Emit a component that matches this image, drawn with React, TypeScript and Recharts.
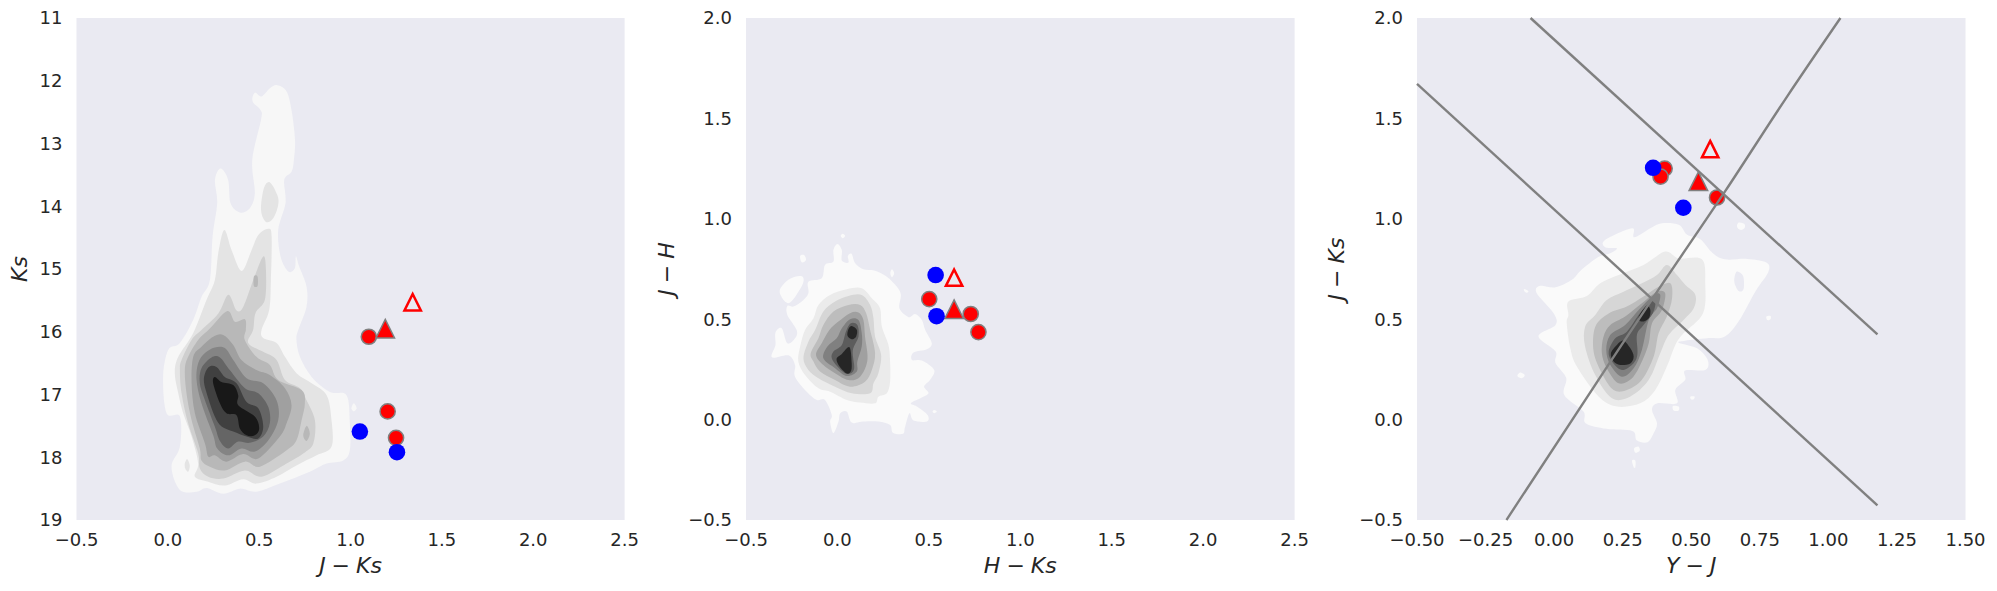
import { CartesianGrid, Label, Scatter, ScatterChart, XAxis, YAxis } from "recharts";

type Pt = [number, number];

const ticksColor = [-0.5, 0, 0.5, 1, 1.5, 2, 2.5];
const ticksKs = [11, 12, 13, 14, 15, 16, 17, 18, 19];
const ticksJH = [-0.5, 0, 0.5, 1, 1.5, 2];
const ticksYJ = [-0.5, -0.25, 0, 0.25, 0.5, 0.75, 1, 1.25, 1.5];

const grey9 = ["#f7f7f7", "#e4e4e4", "#cfcfcf", "#b8b8b8", "#a0a0a0", "#848484", "#656565", "#404040", "#181818"];
const grey8 = ["#fafafa", "#ebebeb", "#d6d6d6", "#bdbdbd", "#a0a0a0", "#808080", "#5c5c5c", "#262626"];

// J-Ks vs Ks
const redA: Pt[] = [[1.1, 16.08], [1.203, 17.27], [1.249, 17.69]];
const blueA: Pt[] = [[1.051, 17.59], [1.254, 17.92]];
const triFillA: Pt[] = [[1.19, 15.95]];
const triOpenA: Pt[] = [[1.34, 15.53]];

const a1: Pt[] = [[0.599, 12.07], [0.65, 12.17], [0.677, 12.47], [0.696, 12.94], [0.69, 13.26], [0.677, 13.45], [0.637, 13.58], [0.644, 13.95], [0.604, 14.38], [0.617, 14.8], [0.659, 15.04], [0.695, 14.99], [0.701, 14.8], [0.719, 14.96], [0.759, 15.28], [0.759, 15.6], [0.714, 15.97], [0.704, 16.13], [0.723, 16.4], [0.787, 16.72], [0.887, 16.96], [0.978, 17.01], [0.996, 17.46], [0.996, 17.89], [0.96, 18.05], [0.869, 18.1], [0.777, 18.23], [0.613, 18.42], [0.485, 18.55], [0.394, 18.5], [0.303, 18.58], [0.212, 18.49], [0.157, 18.55], [0.066, 18.52], [0.02, 18.15], [0.066, 17.83], [0.066, 17.35], [-0.007, 17.3], [-0.026, 16.72], [0.002, 16.29], [0.066, 16.18], [0.139, 15.81], [0.185, 15.44], [0.23, 15.18], [0.245, 14.48], [0.27, 13.95], [0.258, 13.58], [0.289, 13.4], [0.33, 13.58], [0.343, 13.95], [0.394, 14.1], [0.449, 14.03], [0.476, 13.79], [0.462, 13.26], [0.51, 12.62], [0.508, 12.47], [0.464, 12.33], [0.476, 12.19], [0.513, 12.25], [0.559, 12.12]];
const a1b: Pt[] = [[1.018, 17.14], [1.033, 17.22], [1.018, 17.27], [1.005, 17.22]];
const a2: Pt[] = [[0.309, 14.38], [0.349, 14.7], [0.404, 15.03], [0.458, 14.7], [0.495, 14.46], [0.55, 14.36], [0.568, 14.48], [0.564, 15.18], [0.555, 15.65], [0.513, 15.97], [0.522, 16.1], [0.595, 16.18], [0.641, 16.4], [0.704, 16.66], [0.787, 16.82], [0.869, 17.01], [0.896, 17.41], [0.896, 17.83], [0.814, 17.97], [0.704, 18.13], [0.595, 18.31], [0.485, 18.42], [0.412, 18.35], [0.312, 18.45], [0.221, 18.39], [0.148, 18.31], [0.166, 18.1], [0.13, 17.67], [0.084, 17.3], [0.057, 16.98], [0.038, 16.66], [0.057, 16.4], [0.139, 16.02], [0.212, 15.49], [0.257, 15.18], [0.276, 14.75]];
const a2b: Pt[] = [[0.559, 13.62], [0.599, 13.82], [0.604, 13.98], [0.577, 14.19], [0.537, 14.25], [0.51, 14.06], [0.526, 13.71]];
const a2c: Pt[] = [[0.106, 18.03], [0.12, 18.13], [0.111, 18.23], [0.095, 18.18], [0.093, 18.1]];
const a3: Pt[] = [[0.522, 14.8], [0.537, 15.02], [0.531, 15.49], [0.48, 15.7], [0.467, 15.97], [0.44, 16.18], [0.522, 16.32], [0.595, 16.45], [0.641, 16.77], [0.723, 16.9], [0.759, 17.09], [0.805, 17.41], [0.796, 17.78], [0.741, 17.94], [0.65, 18.1], [0.513, 18.31], [0.422, 18.21], [0.303, 18.34], [0.221, 18.31], [0.175, 18.18], [0.166, 17.94], [0.111, 17.46], [0.075, 16.98], [0.066, 16.61], [0.075, 16.45], [0.13, 16.13], [0.185, 15.97], [0.276, 15.71], [0.331, 15.41], [0.376, 15.66], [0.413, 15.6], [0.467, 15.18]];
const a4: Pt[] = [[0.325, 15.67], [0.367, 15.84], [0.422, 15.8], [0.427, 15.97], [0.421, 16.13], [0.485, 16.4], [0.558, 16.53], [0.604, 16.77], [0.732, 16.93], [0.75, 17.14], [0.732, 17.41], [0.704, 17.73], [0.65, 17.89], [0.504, 18.15], [0.422, 18.07], [0.312, 18.21], [0.23, 18.15], [0.184, 18.05], [0.175, 17.86], [0.13, 17.41], [0.102, 16.98], [0.093, 16.61], [0.111, 16.4], [0.166, 16.13], [0.23, 15.95]];
const a4b: Pt[] = [[0.759, 17.5], [0.777, 17.62], [0.759, 17.74], [0.741, 17.65]];
const a4c: Pt[] = [[0.471, 15.12], [0.491, 15.12], [0.491, 15.27], [0.471, 15.27]];
const a5: Pt[] = [[0.303, 16.05], [0.358, 16.21], [0.403, 16.45], [0.485, 16.61], [0.558, 16.69], [0.641, 16.9], [0.677, 17.17], [0.65, 17.46], [0.613, 17.67], [0.495, 18.02], [0.412, 17.95], [0.321, 18.07], [0.257, 17.97], [0.221, 17.99], [0.203, 17.78], [0.148, 17.3], [0.13, 16.82], [0.139, 16.4], [0.184, 16.24], [0.248, 16.08]];
const a6: Pt[] = [[0.257, 16.25], [0.312, 16.26], [0.358, 16.45], [0.431, 16.74], [0.522, 16.82], [0.595, 17.09], [0.604, 17.41], [0.55, 17.73], [0.476, 17.91], [0.403, 17.86], [0.33, 17.97], [0.27, 17.86], [0.248, 17.65], [0.184, 17.14], [0.157, 16.77], [0.166, 16.5], [0.203, 16.34]];
const a7: Pt[] = [[0.239, 16.41], [0.285, 16.41], [0.339, 16.61], [0.422, 16.9], [0.495, 16.98], [0.55, 17.2], [0.558, 17.46], [0.522, 17.67], [0.449, 17.77], [0.385, 17.75], [0.33, 17.86], [0.285, 17.74], [0.257, 17.51], [0.203, 17.09], [0.175, 16.82], [0.184, 16.58]];
const a8: Pt[] = [[0.221, 16.57], [0.266, 16.56], [0.312, 16.72], [0.376, 16.82], [0.431, 17.12], [0.495, 17.22], [0.522, 17.51], [0.495, 17.7], [0.431, 17.67], [0.358, 17.59], [0.294, 17.51], [0.257, 17.35], [0.221, 17.06], [0.197, 16.77]];
const a9: Pt[] = [[0.257, 16.72], [0.294, 16.8], [0.358, 16.85], [0.385, 17.01], [0.385, 17.17], [0.476, 17.35], [0.5, 17.54], [0.476, 17.65], [0.431, 17.65], [0.394, 17.54], [0.376, 17.33], [0.321, 17.3], [0.285, 17.14], [0.248, 16.82]];

// H-Ks vs J-H
const redB: Pt[] = [[0.502, 0.6], [0.729, 0.526], [0.771, 0.436]];
const blueB: Pt[] = [[0.537, 0.72], [0.542, 0.515]];
const triFillB: Pt[] = [[0.638, 0.55]];
const triOpenB: Pt[] = [[0.638, 0.707]];

const b1: Pt[] = [[0, 0.875], [0.024, 0.845], [0.024, 0.792], [0.06, 0.782], [0.057, 0.815], [0.078, 0.825], [0.097, 0.779], [0.142, 0.749], [0.201, 0.742], [0.27, 0.712], [0.325, 0.662], [0.347, 0.621], [0.339, 0.554], [0.389, 0.51], [0.425, 0.526], [0.462, 0.496], [0.48, 0.446], [0.516, 0.38], [0.489, 0.35], [0.416, 0.334], [0.407, 0.297], [0.462, 0.294], [0.529, 0.247], [0.507, 0.198], [0.474, 0.164], [0.498, 0.131], [0.453, 0.106], [0.401, 0.081], [0.434, 0.065], [0.493, 0.023], [0.489, -0.01], [0.416, -0.005], [0.394, 0.032], [0.37, -0.035], [0.358, -0.071], [0.303, -0.065], [0.288, -0.027], [0.224, -0.01], [0.142, -0.01], [0.078, -0.015], [0.051, 0.04], [0.015, 0.032], [0.006, -0.01], [-0.022, -0.068], [-0.04, -0.01], [-0.031, 0.023], [-0.068, 0.098], [-0.113, 0.098], [-0.168, 0.139], [-0.232, 0.214], [-0.232, 0.272], [-0.268, 0.32], [-0.358, 0.31], [-0.339, 0.372], [-0.339, 0.433], [-0.305, 0.455], [-0.274, 0.38], [-0.232, 0.405], [-0.223, 0.446], [-0.274, 0.521], [-0.274, 0.566], [-0.241, 0.563], [-0.195, 0.588], [-0.159, 0.629], [-0.159, 0.687], [-0.086, 0.704], [-0.068, 0.77], [-0.022, 0.787], [-0.022, 0.845]];
const b1b: Pt[] = [[-0.316, 0.641], [-0.268, 0.697], [-0.199, 0.715], [-0.188, 0.679], [-0.246, 0.594], [-0.281, 0.584]];
const b1c: Pt[] = [[-0.204, 0.815], [-0.182, 0.82], [-0.172, 0.795], [-0.195, 0.783]];
const b1d: Pt[] = [[0.029, 0.925], [0.042, 0.915], [0.029, 0.903], [0.018, 0.915]];
const b1e: Pt[] = [[0.298, 0.749], [0.31, 0.729], [0.298, 0.709], [0.289, 0.729]];
const b1f: Pt[] = [[0.529, 0.048], [0.544, 0.04], [0.529, 0.032], [0.52, 0.04]];
const b2: Pt[] = [[0.051, 0.649], [0.133, 0.654], [0.188, 0.604], [0.233, 0.554], [0.243, 0.463], [0.279, 0.372], [0.288, 0.289], [0.288, 0.189], [0.27, 0.131], [0.224, 0.114], [0.206, 0.081], [0.124, 0.085], [0.051, 0.098], [-0.04, 0.139], [-0.104, 0.156], [-0.177, 0.222], [-0.214, 0.289], [-0.204, 0.363], [-0.177, 0.446], [-0.131, 0.505], [-0.104, 0.571], [-0.04, 0.621]];
const b3: Pt[] = [[0.06, 0.616], [0.133, 0.621], [0.179, 0.571], [0.197, 0.505], [0.206, 0.413], [0.239, 0.322], [0.224, 0.231], [0.197, 0.181], [0.179, 0.131], [0.079, 0.131], [-0.013, 0.164], [-0.104, 0.206], [-0.159, 0.247], [-0.186, 0.305], [-0.159, 0.388], [-0.122, 0.446], [-0.077, 0.538], [-0.013, 0.588]];
const b4: Pt[] = [[0.06, 0.571], [0.124, 0.571], [0.157, 0.53], [0.179, 0.446], [0.206, 0.33], [0.188, 0.247], [0.151, 0.189], [0.069, 0.164], [-0.013, 0.197], [-0.095, 0.239], [-0.131, 0.289], [-0.146, 0.33], [-0.104, 0.405], [-0.077, 0.471], [-0.022, 0.538]];
const b5: Pt[] = [[0.069, 0.53], [0.115, 0.533], [0.142, 0.496], [0.151, 0.413], [0.164, 0.297], [0.124, 0.214], [0.06, 0.197], [-0.013, 0.231], [-0.077, 0.272], [-0.117, 0.322], [-0.086, 0.38], [-0.044, 0.446], [0.005, 0.488]];
const b6: Pt[] = [[0.069, 0.5], [0.115, 0.496], [0.133, 0.43], [0.133, 0.364], [0.109, 0.289], [0.106, 0.239], [0.051, 0.217], [-0.013, 0.256], [-0.077, 0.305], [-0.055, 0.364], [-0.004, 0.405], [0.024, 0.455]];
const b7: Pt[] = [[0.073, 0.48], [0.109, 0.471], [0.115, 0.413], [0.084, 0.344], [0.091, 0.251], [0.051, 0.227], [0, 0.264], [-0.031, 0.305], [-0.022, 0.339], [0.024, 0.372], [0.046, 0.438]];
const b8: Pt[] = [[0.078, 0.466], [0.106, 0.447], [0.102, 0.413], [0.078, 0.4], [0.055, 0.417], [0.06, 0.45]];
const b8b: Pt[] = [[0.066, 0.36], [0.078, 0.28], [0.073, 0.239], [0.048, 0.231], [0.006, 0.272], [-0.004, 0.305], [0.024, 0.327]];

// Y-J vs J-Ks
const redC: Pt[] = [[0.403, 1.25], [0.388, 1.21], [0.594, 1.106]];
const blueC: Pt[] = [[0.361, 1.254], [0.471, 1.055]];
const triFillC: Pt[] = [[0.526, 1.187]];
const triOpenC: Pt[] = [[0.569, 1.347]];
const upperCut: Pt[] = [[-0.086, 2], [1.179, 0.424]];
const lowerCut: Pt[] = [[-0.5, 1.672], [1.179, -0.427]];
const sequence: Pt[] = [[-0.174, -0.5], [0.206, 0.29], [0.377, 0.64], [0.625, 1.14], [0.85, 1.61], [1.044, 2]];

const c1: Pt[] = [[0.393, 0.978], [0.455, 0.97], [0.485, 0.92], [0.533, 0.898], [0.579, 0.828], [0.624, 0.798], [0.704, 0.8], [0.774, 0.782], [0.781, 0.735], [0.735, 0.641], [0.673, 0.49], [0.621, 0.413], [0.558, 0.405], [0.478, 0.393], [0.454, 0.383], [0.521, 0.355], [0.56, 0.297], [0.551, 0.247], [0.478, 0.244], [0.478, 0.198], [0.442, 0.148], [0.448, 0.081], [0.377, 0.081], [0.357, 0.048], [0.375, -0.018], [0.363, -0.068], [0.34, -0.113], [0.301, -0.103], [0.285, -0.057], [0.191, -0.046], [0.115, -0.018], [0.107, 0.04], [0.037, 0.123], [0.044, 0.207], [0.005, 0.282], [0.005, 0.34], [-0.057, 0.415], [0.005, 0.471], [-0.002, 0.53], [-0.064, 0.631], [-0.051, 0.666], [0.005, 0.659], [0.065, 0.696], [0.099, 0.745], [0.161, 0.81], [0.205, 0.828], [0.229, 0.853], [0.186, 0.858], [0.186, 0.895], [0.284, 0.953], [0.292, 0.908], [0.351, 0.953]];
const c1hole: Pt[] = [[0.666, 0.737], [0.689, 0.715], [0.691, 0.651], [0.673, 0.641], [0.657, 0.687]];
const c1b: Pt[] = [[-0.124, 0.234], [-0.107, 0.222], [-0.118, 0.206], [-0.134, 0.217]];
const c1c: Pt[] = [[-0.109, 0.651], [-0.094, 0.641], [-0.1, 0.632], [-0.109, 0.641]];
const c1d: Pt[] = [[0.673, 0.981], [0.694, 0.974], [0.694, 0.953], [0.679, 0.945], [0.667, 0.961]];
const c1e: Pt[] = [[0.497, 0.115], [0.512, 0.115], [0.509, 0.101], [0.499, 0.101]];
const c1f: Pt[] = [[0.433, 0.068], [0.454, 0.065], [0.454, 0.045], [0.436, 0.045]];
const c1g: Pt[] = [[0.774, 0.513], [0.789, 0.516], [0.789, 0.5], [0.777, 0.496]];
const c1h: Pt[] = [[0.292, -0.143], [0.308, -0.135], [0.312, -0.155], [0.296, -0.165]];
const c1i: Pt[] = [[0.284, -0.204], [0.296, -0.204], [0.296, -0.237], [0.29, -0.237]];
const c2: Pt[] = [[0.405, 0.837], [0.454, 0.803], [0.539, 0.798], [0.551, 0.679], [0.543, 0.53], [0.472, 0.43], [0.442, 0.372], [0.411, 0.264], [0.369, 0.148], [0.314, 0.081], [0.229, 0.065], [0.162, 0.115], [0.083, 0.264], [0.059, 0.355], [0.046, 0.48], [0.052, 0.521], [0.052, 0.588], [0.119, 0.616], [0.168, 0.679], [0.235, 0.72], [0.326, 0.77]];
const c3: Pt[] = [[0.411, 0.77], [0.448, 0.72], [0.478, 0.671], [0.515, 0.621], [0.509, 0.554], [0.472, 0.496], [0.418, 0.422], [0.387, 0.33], [0.345, 0.198], [0.278, 0.115], [0.211, 0.106], [0.15, 0.222], [0.113, 0.363], [0.113, 0.463], [0.15, 0.521], [0.192, 0.596], [0.253, 0.637], [0.32, 0.679], [0.375, 0.72]];
const c4: Pt[] = [[0.381, 0.662], [0.424, 0.679], [0.43, 0.604], [0.411, 0.513], [0.381, 0.43], [0.363, 0.314], [0.32, 0.198], [0.265, 0.147], [0.217, 0.147], [0.174, 0.231], [0.144, 0.339], [0.15, 0.463], [0.199, 0.529], [0.265, 0.563], [0.326, 0.613]];
const c5: Pt[] = [[0.375, 0.637], [0.405, 0.629], [0.393, 0.546], [0.357, 0.48], [0.345, 0.38], [0.32, 0.289], [0.284, 0.206], [0.235, 0.181], [0.192, 0.256], [0.174, 0.33], [0.18, 0.413], [0.205, 0.471], [0.259, 0.513], [0.32, 0.579]];
const c6: Pt[] = [[0.363, 0.621], [0.387, 0.621], [0.375, 0.554], [0.345, 0.496], [0.32, 0.347], [0.29, 0.256], [0.247, 0.214], [0.205, 0.272], [0.19, 0.347], [0.205, 0.422], [0.259, 0.471], [0.314, 0.554]];
const c7: Pt[] = [[0.345, 0.579], [0.369, 0.588], [0.36, 0.53], [0.326, 0.471], [0.302, 0.422], [0.304, 0.33], [0.29, 0.281], [0.247, 0.247], [0.211, 0.289], [0.199, 0.339], [0.223, 0.405], [0.265, 0.438], [0.308, 0.521]];
const c8: Pt[] = [[0.336, 0.566], [0.351, 0.546], [0.345, 0.505], [0.32, 0.488], [0.308, 0.51]];
const c8b: Pt[] = [[0.253, 0.393], [0.278, 0.355], [0.29, 0.314], [0.278, 0.28], [0.241, 0.272], [0.217, 0.289], [0.207, 0.33], [0.229, 0.372]];

const bg = "#EAEAF2";
const ink = "#262626";
const edge = "#808080";
const font = "'DejaVu Sans', sans-serif";

const toRows = (pts: Pt[]) => pts.map(([x, y]) => ({ x, y }));
const noDot = () => <g />;
const minus = (s: string) => s.replace("-", "\u2212");

const redDot = (p: any) => <circle cx={p.cx} cy={p.cy} r={7.6} fill="#ff0000" stroke={edge} strokeWidth={1.5} />;
const blueDot = (p: any) => <circle cx={p.cx} cy={p.cy} r={8.3} fill="#0000ff" />;
const triangle = (fill: string, stroke: string, w: number, half: number) => (p: any) => (
  <path d={`M${p.cx} ${p.cy - half}L${p.cx + half} ${p.cy + half}L${p.cx - half} ${p.cy + half}Z`} fill={fill} stroke={stroke} strokeWidth={w} />
);

// closed Catmull-Rom through the scaled contour points, the KDE outlines are smooth
function closedPath(points: { x: number; y: number }[]) {
  const n = points.length;
  let d = `M${points[0].x} ${points[0].y}`;
  for (let i = 0; i < n; i++) {
    const p0 = points[(i - 1 + n) % n];
    const p1 = points[i];
    const p2 = points[(i + 1) % n];
    const p3 = points[(i + 2) % n];
    const c1x = p1.x + (p2.x - p0.x) / 6;
    const c1y = p1.y + (p2.y - p0.y) / 6;
    const c2x = p2.x - (p3.x - p1.x) / 6;
    const c2y = p2.y - (p3.y - p1.y) / 6;
    d += `C${c1x} ${c1y} ${c2x} ${c2y} ${p2.x} ${p2.y}`;
  }
  return d + "Z";
}

function area(pts: Pt[], fill: string, key: string) {
  const outline = (props: any) => <path d={closedPath(props.points)} fill={fill} stroke="none" />;
  return <Scatter key={key} data={toRows(pts)} dataKey="y" fill={fill} shape={noDot} isAnimationActive={false} line={outline} />;
}

function rule(pts: Pt[], key: string) {
  return (
    <Scatter key={key} data={toRows(pts)} dataKey="y" fill={edge} shape={noDot} isAnimationActive={false}
      line={{ stroke: edge, strokeWidth: 2.4, fill: "none" }} lineJointType="monotone" />
  );
}

interface PanelProps {
  left: number;
  width: number;
  axisWidth: number;
  rightGap: number;
  xDomain: [number, number];
  yDomain: [number, number];
  xTicks: number[];
  yTicks: number[];
  xFormat: (v: number) => string;
  yFormat: (v: number) => string;
  xName: string;
  yName: string;
  yNameOffset: number;
  reversed?: boolean;
  layers: [Pt[], string][];
  rules?: Pt[][];
  red: Pt[];
  blue: Pt[];
  triFill: Pt[];
  triOpen: Pt[];
}

function Panel(p: PanelProps) {
  const tick = { fontSize: 18, fill: ink, fontFamily: font };
  const titleStyle = { fontSize: 22, fontStyle: "italic", fill: ink, fontFamily: font, wordSpacing: "-1px" };
  return (
    <div style={{ position: "absolute", left: p.left, top: 0 }}>
      <ScatterChart width={p.width} height={591} margin={{ top: 18, right: p.rightGap, bottom: 0, left: 0 }}>
        <CartesianGrid fill={bg} stroke="none" horizontal={false} vertical={false} />
        <XAxis type="number" dataKey="x" domain={p.xDomain} ticks={p.xTicks} interval={0} height={71} tickSize={0} tickMargin={13}
          axisLine={false} tickLine={false} tick={tick} tickFormatter={p.xFormat}>
          <Label value={p.xName} position="insideBottom" offset={18} style={{ ...titleStyle, textAnchor: "middle" }} />
        </XAxis>
        <YAxis type="number" dataKey="y" domain={p.yDomain} ticks={p.yTicks} interval={0} width={p.axisWidth} tickSize={0} tickMargin={14}
          axisLine={false} tickLine={false} tick={tick} tickFormatter={p.yFormat} reversed={p.reversed}>
          <Label value={p.yName} angle={-90} position="insideLeft" offset={p.yNameOffset} style={{ ...titleStyle, textAnchor: "middle" }} />
        </YAxis>
        {p.layers.map(([pts, fill], i) => area(pts, fill, `layer-${i}`))}
        <Scatter data={toRows(p.red)} dataKey="y" shape={redDot} isAnimationActive={false} />
        <Scatter data={toRows(p.triFill)} dataKey="y" shape={triangle("#ff0000", edge, 1.5, 9.3)} isAnimationActive={false} />
        <Scatter data={toRows(p.triOpen)} dataKey="y" shape={triangle("none", "#ff0000", 2.5, 8.2)} isAnimationActive={false} />
        {(p.rules ?? []).map((r, i) => rule(r, `rule-${i}`))}
        <Scatter data={toRows(p.blue)} dataKey="y" shape={blueDot} isAnimationActive={false} />
      </ScatterChart>
    </div>
  );
}

const layersA: [Pt[], string][] = [
  [a1, grey9[0]], [a1b, grey9[0]], [a2, grey9[1]], [a2b, grey9[1]], [a2c, grey9[1]], [a3, grey9[2]], [a4, grey9[3]], [a4b, grey9[3]], [a4c, grey9[3]],
  [a5, grey9[4]], [a6, grey9[5]], [a7, grey9[6]], [a8, grey9[7]], [a9, grey9[8]],
];
const layersB: [Pt[], string][] = [
  [b1, grey8[0]], [b1b, grey8[0]], [b1c, grey8[0]], [b1d, grey8[0]], [b1e, grey8[0]], [b1f, grey8[0]],
  [b2, grey8[1]], [b3, grey8[2]], [b4, grey8[3]], [b5, grey8[4]], [b6, grey8[5]], [b7, grey8[6]], [b8, grey8[7]], [b8b, grey8[7]],
];
const layersC: [Pt[], string][] = [
  [c1, grey8[0]], [c1hole, bg], [c1b, grey8[0]], [c1c, grey8[0]], [c1d, grey8[0]], [c1e, grey8[0]], [c1f, grey8[0]], [c1g, grey8[0]], [c1h, grey8[0]], [c1i, grey8[0]],
  [c2, grey8[1]], [c3, grey8[2]], [c4, grey8[3]], [c5, grey8[4]], [c6, grey8[5]], [c7, grey8[6]], [c8, grey8[7]], [c8b, grey8[7]],
];

const oneDp = (v: number) => minus(v.toFixed(1));
const twoDp = (v: number) => minus(v.toFixed(2));

export default function App() {
  return (
    <div style={{ position: "absolute", left: 0, top: 0, width: 1997, height: 591, background: "#fff" }}>
      <Panel left={0} width={660} axisWidth={76.5} rightGap={35.4} xDomain={[-0.5, 2.5]} yDomain={[11, 19]} reversed
        xTicks={ticksColor} yTicks={ticksKs} xFormat={oneDp} yFormat={(v) => String(v)} xName="J − Ks" yName="Ks" yNameOffset={19}
        layers={layersA} red={redA} blue={blueA} triFill={triFillA} triOpen={triOpenA} />
      <Panel left={630} width={700} axisWidth={116} rightGap={35.4} xDomain={[-0.5, 2.5]} yDomain={[-0.5, 2]}
        xTicks={ticksColor} yTicks={ticksJH} xFormat={oneDp} yFormat={oneDp} xName="H − Ks" yName="J − H" yNameOffset={36}
        layers={layersB} red={redB} blue={blueB} triFill={triFillB} triOpen={triOpenB} />
      <Panel left={1300} width={697} axisWidth={117} rightGap={31.5} xDomain={[-0.5, 1.5]} yDomain={[-0.5, 2]}
        xTicks={ticksYJ} yTicks={ticksJH} xFormat={twoDp} yFormat={oneDp} xName="Y − J" yName="J − Ks" yNameOffset={36}
        layers={layersC} rules={[upperCut, lowerCut, sequence]} red={redC} blue={blueC} triFill={triFillC} triOpen={triOpenC} />
    </div>
  );
}
